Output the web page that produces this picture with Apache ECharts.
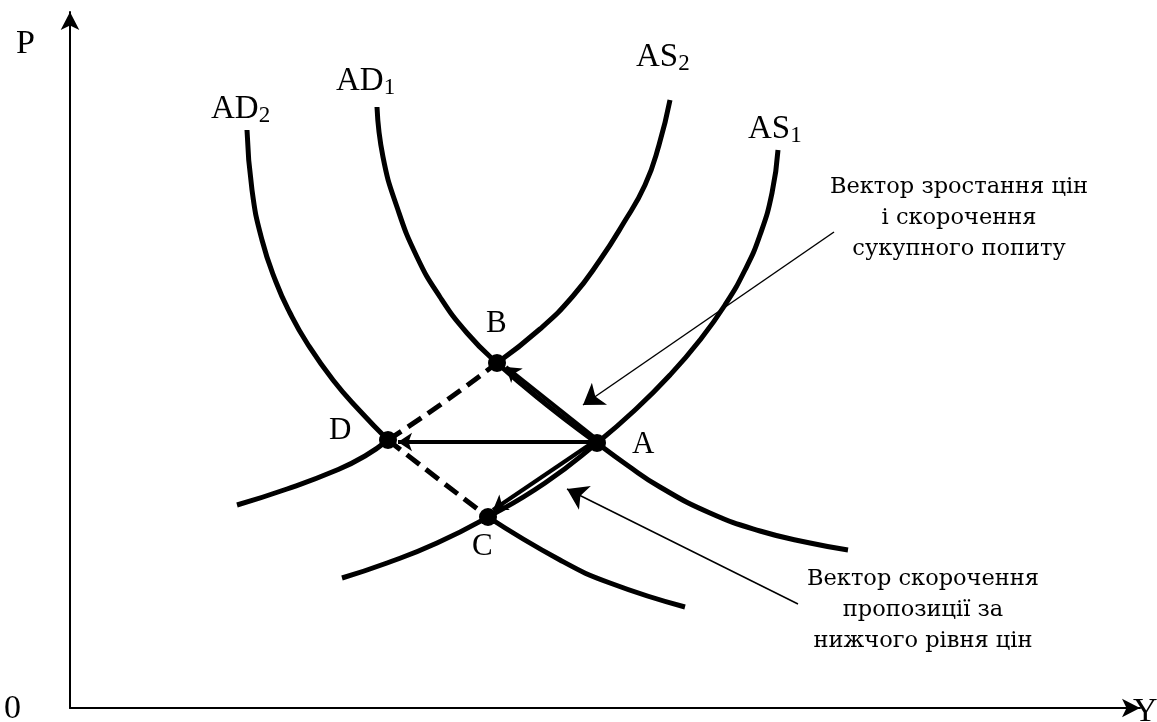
<!DOCTYPE html>
<html>
<head>
<meta charset="utf-8">
<script src="https://cdn.jsdelivr.net/npm/echarts@6/dist/echarts.min.js"></script>
<style>
  html, body { margin: 0; padding: 0; background: #fff; }
  #main { width: 1157px; height: 722px; }
</style>
</head>
<body>
<div id="main"></div>
<script>
// криві (одиниці умовні: Y по горизонталі, P по вертикалі)
var ad1 = [[307,601],[313,551],[327,501],[347,451],[370,411],[397,375],[427,345],[477,303],[527,265],[557,243],[590,221],[640,195],[690,177],[740,165],[778,158]];
var ad2 = [[177,578],[182,518],[192,468],[206,426],[220,395],[237,365],[263,328],[290,297],[318,268],[367,230],[418,191],[490,148],[540,125],[615,101]];
var as2 = [[167,203],[217,219],[267,238],[295,252],[318,268],[370,303],[427,345],[470,379],[503,412],[530,448],[553,484],[575,523],[589,563],[600,608]];
var as1 = [[272,130],[317,145],[367,165],[418,191],[475,225],[527,265],[565,298],[600,333],[630,368],[655,403],[675,438],[690,473],[702,515],[708,558]];

// точки рівноваги
var pointNames = ['A', 'B', 'C', 'D'];
var pointValues = [[527,265],[427,345],[418,191],[318,268]];

// вектори зміщення
var moveArrows = [
    [[529,267],[436,341]],  // A -> B
    [[527,266],[328,266]],  // A -> D
    [[525,267],[423,198]]   // A -> C
];
// стрілки-виноски
var noteArrows = [
    [[764,476],[513,303]],
    [[728,104],[497,219]]
];

var chart = echarts.init(document.getElementById('main'));

var serif = 'Liberation Serif';
var noteFont = 'DejaVu Serif';

function curve(data, dashed) {
    return {
        type: 'line',
        data: data,
        smooth: 0.5,
        showSymbol: false,
        silent: true,
        lineStyle: {
            color: '#000',
            width: 5,
            type: dashed ? [16, 8] : 'solid'
        }
    };
}

function arrows(data, width, size) {
    return {
        type: 'lines',
        coordinateSystem: 'cartesian2d',
        symbol: ['none', 'arrow'],
        symbolSize: size,
        silent: true,
        lineStyle: { color: '#000', width: width, opacity: 1, curveness: 0 },
        data: data.map(function (c) { return { coords: c }; })
    };
}

function subLabel(main, sub, x, y) {
    return {
        type: 'text',
        x: x, y: y,
        style: {
            text: '{m|' + main + '}{s|' + sub + '}',
            rich: {
                m: { fontFamily: serif, fontSize: 33, fill: '#000' },
                s: { fontFamily: serif, fontSize: 23, fill: '#000', padding: [13, 0, 0, 0] }
            }
        }
    };
}

function plain(t, x, y, size) {
    return {
        type: 'text', x: x, y: y,
        style: { text: t, fontFamily: serif, fontSize: size || 31, fill: '#000' }
    };
}

function note(t, x, y) {
    return {
        type: 'text', x: x, y: y,
        style: {
            text: t, fontFamily: noteFont, fontSize: 22.5, lineHeight: 31,
            fill: '#000', align: 'center', verticalAlign: 'top'
        }
    };
}

var option = {
    animation: false,
    backgroundColor: '#fff',
    grid: { left: 70, right: 17, top: 12, bottom: 14 },
    xAxis: {
        type: 'value', min: 0, max: 1070,
        axisLine: { show: true, symbol: ['none', 'arrow'], symbolSize: [14, 18], lineStyle: { color: '#000', width: 2 } },
        axisTick: { show: false }, axisLabel: { show: false }, splitLine: { show: false }
    },
    yAxis: {
        type: 'value', min: 0, max: 696,
        axisLine: { show: true, symbol: ['none', 'arrow'], symbolSize: [14, 18], lineStyle: { color: '#000', width: 2 } },
        axisTick: { show: false }, axisLabel: { show: false }, splitLine: { show: false }
    },
    series: [
        curve(ad1),
        curve(ad2.slice(0, 9)), curve(ad2.slice(8, 11), true), curve(ad2.slice(10)),
        curve(as2.slice(0, 5)), curve(as2.slice(4, 7), true), curve(as2.slice(6)),
        curve(as1),
        arrows(moveArrows, 4, 14),
        arrows(noteArrows, 1.5, 20),
        {
            type: 'scatter',
            symbolSize: 18,
            silent: true,
            z: 5,
            itemStyle: { color: '#000', opacity: 1 },
            data: pointValues.map(function (v, i) { return { name: pointNames[i], value: v }; })
        }
    ],
    graphic: [
        plain('P', 16, 27, 34),
        plain('0', 4, 692, 34),
        plain('Y', 1133, 695, 34),
        subLabel('AD', '2', 211, 91),
        subLabel('AD', '1', 336, 63),
        subLabel('AS', '2', 636, 39),
        subLabel('AS', '1', 748, 111),
        plain('B', 486, 308),
        plain('D', 329, 415),
        plain('A', 632, 429),
        plain('C', 472, 531),
        note('Вектор зростання цін\nі скорочення\nсукупного попиту', 959, 172),
        note('Вектор скорочення\nпропозиції за\nнижчого рівня цін', 923, 564)
    ]
};

chart.setOption(option);
</script>
</body>
</html>
